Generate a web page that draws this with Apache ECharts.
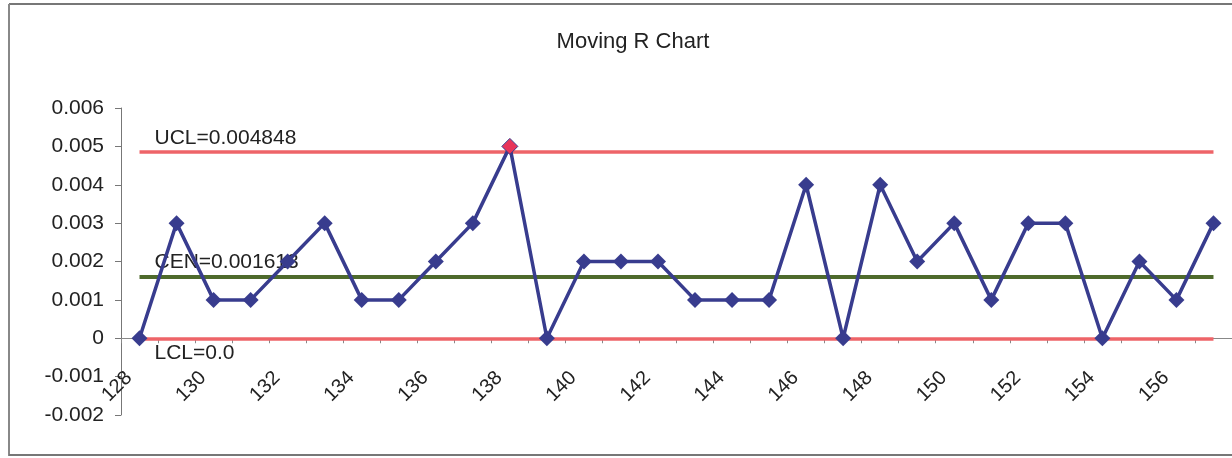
<!DOCTYPE html>
<html>
<head>
<meta charset="utf-8">
<title>Moving R Chart</title>
<script src="https://cdn.jsdelivr.net/npm/echarts@6/dist/echarts.min.js"></script>
<style>
  html, body { margin: 0; padding: 0; background: #fff; }
  #chart { width: 1232px; height: 458px; }
</style>
</head>
<body>
<div id="chart"></div>
<script>
// Sample numbers along the x axis
const samples = [128, 129, 130, 131, 132, 133, 134, 135, 136, 137,
                 138, 139, 140, 141, 142, 143, 144, 145, 146, 147,
                 148, 149, 150, 151, 152, 153, 154, 155, 156, 157];

// Moving range of each sample
const movingRange = [0, 0.003, 0.001, 0.001, 0.002, 0.003, 0.001, 0.001, 0.002, 0.003,
                     0.005, 0, 0.002, 0.002, 0.002, 0.001, 0.001, 0.001, 0.004, 0,
                     0.004, 0.002, 0.003, 0.001, 0.003, 0.003, 0, 0.002, 0.001, 0.003];

// Control limits
const limitNames = ['UCL', 'CEN', 'LCL'];
const limitValues = [0.004848, 0.001613, 0.0];
const limitColors = ['#ee6468', '#4e6a2c', '#ee6468'];
const limitWidths = [3.5, 4, 3.5];

// Y axis range and step
const yMin = -0.002;
const yMax = 0.006;
const yStep = 0.001;

const FONT = 'Liberation Sans, Arial, sans-serif';
const lineColor = '#383c8e';
const outColor = '#e8345a';

const ucl = limitValues[0];
const lcl = limitValues[2];

const seriesData = movingRange.map(v => {
  if (v > ucl || v < lcl) {
    return { value: v, itemStyle: { color: outColor, borderColor: lineColor, borderWidth: 1 } };
  }
  return v;
});

const fmtLimit = v => (v === 0 ? '0.0' : String(v));

const markLines = limitValues.map((v, i) => ([
  {
    coord: [String(samples[0]), v],
    lineStyle: { color: limitColors[i], width: limitWidths[i], type: 'solid' },
    label: {
      show: true,
      formatter: limitNames[i] + '=' + fmtLimit(v),
      position: limitNames[i] === 'LCL' ? 'insideStartBottom' : 'insideStartTop',
      distance: [15, 4],
      color: '#222',
      fontSize: 21,
      fontFamily: FONT
    }
  },
  { coord: [String(samples[samples.length - 1]), v] }
]));

// Grid bounds; the x axis sits on the zero line, so its labels are
// pulled up from the bottom of the grid to hang just below zero.
const gridTop = 108, gridBottom = 43;
const plotH = 458 - gridTop - gridBottom;
const zeroOffset = plotH * (0 - yMin) / (yMax - yMin);

const chart = echarts.init(document.getElementById('chart'), null, { renderer: 'canvas' });

chart.setOption({
  backgroundColor: '#ffffff',
  animation: false,
  title: {
    text: 'Moving R Chart',
    left: 628,
    textAlign: 'center',
    top: 26,
    textStyle: {
      fontFamily: FONT,
      fontSize: 22,
      fontWeight: 'normal',
      color: '#222'
    }
  },
  grid: { left: 121, right: -7, top: gridTop, bottom: gridBottom },
  xAxis: {
    type: 'category',
    data: samples.map(String),
    boundaryGap: true,
    axisLine: { onZero: true, lineStyle: { color: '#888', width: 1 } },
    axisTick: { show: true, interval: 0, length: 5, lineStyle: { color: '#888' } },
    axisLabel: {
      interval: 1,
      rotate: 45,
      margin: 26 - zeroOffset,
      padding: [0, 15, 0, 0],
      color: '#222',
      fontSize: 20,
      fontFamily: FONT
    },
    splitLine: { show: false }
  },
  yAxis: {
    type: 'value',
    min: yMin,
    max: yMax,
    interval: yStep,
    axisLine: { show: true, lineStyle: { color: '#777', width: 1 } },
    axisTick: { show: true, length: 6, lineStyle: { color: '#777' } },
    axisLabel: {
      margin: 17,
      color: '#222',
      fontSize: 21,
      fontFamily: FONT
    },
    splitLine: { show: false }
  },
  series: [{
    type: 'line',
    data: seriesData,
    symbol: 'diamond',
    symbolSize: 16,
    z: 5,
    lineStyle: { color: lineColor, width: 3.5 },
    itemStyle: { color: lineColor },
    markLine: {
      silent: true,
      symbol: ['none', 'none'],
      z: 2,
      data: markLines
    }
  }],
  graphic: [
    { type: 'line', shape: { x1: 9, y1: 4, x2: 1232, y2: 4 }, style: { stroke: '#777', lineWidth: 2 } },
    { type: 'line', shape: { x1: 9, y1: 4, x2: 9, y2: 456 }, style: { stroke: '#888', lineWidth: 2 } },
    { type: 'line', shape: { x1: 9, y1: 455, x2: 1232, y2: 455 }, style: { stroke: '#777', lineWidth: 2 } }
  ]
});
</script>
</body>
</html>
